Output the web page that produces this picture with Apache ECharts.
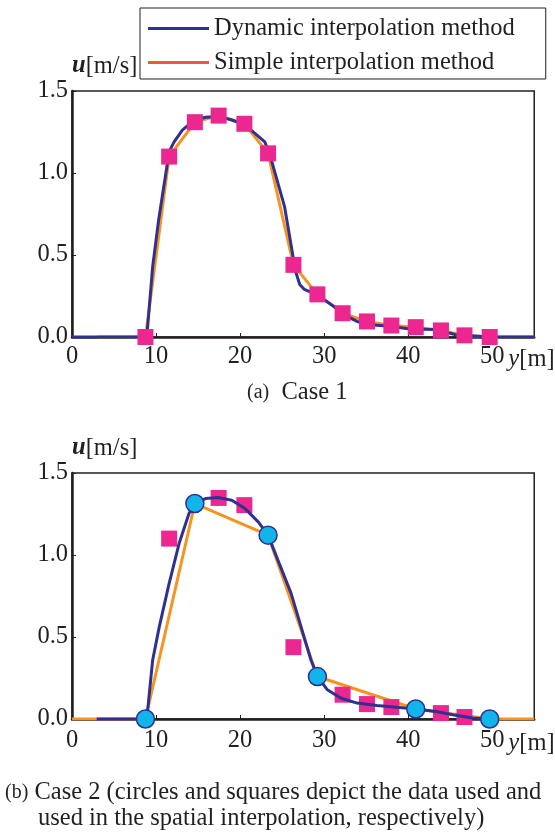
<!DOCTYPE html>
<html>
<head>
<meta charset="utf-8">
<script src="https://cdn.jsdelivr.net/npm/echarts@6/dist/echarts.min.js"></script>
<style>
  html, body { margin: 0; padding: 0; background: #fff; }
  #main { width: 555px; height: 833px; }
</style>
</head>
<body>
<div id="main"></div>
<script>
// data
var xTicks = [0, 10, 20, 30, 40, 50];
var uTicks = [0, 0.5, 1.0, 1.5];

// sampling points (case 1: all squares)
var pointX = [8.74, 11.56, 14.62, 17.45, 20.51, 23.33, 26.35, 29.2, 32.2, 35.1, 38.0, 40.9, 43.9, 46.7, 49.7];
var case1U = [0, 1.10, 1.31, 1.35, 1.30, 1.12, 0.44, 0.26, 0.145, 0.095, 0.07, 0.06, 0.04, 0.01, 0];

// case 2: circles (data used) and squares
var circleX = [8.74, 14.62, 23.33, 29.2, 40.9, 49.7];
var circleU = [0, 1.314, 1.121, 0.259, 0.061, 0];
var squareX = [11.56, 17.45, 20.51, 26.35, 32.2, 35.1, 38.0, 43.9, 46.7];
var squareU = [1.10, 1.348, 1.304, 0.438, 0.148, 0.091, 0.073, 0.036, 0.012];

// dynamic interpolation curves
var dyn1X = [0, 8.9, 9.6, 10.31, 11.56, 12.15, 13.13, 14.31, 15.88, 17.45, 19.01, 20.59, 21.76, 22.94, 23.72, 24.5, 25.29, 26.07, 26.6, 27.1, 27.65, 28.82, 30.0, 31.18, 32.35, 33.92, 35.48, 37.84, 40.19, 43.33, 45.68, 49.6, 55];
var dyn1U = [0, 0, 0.43, 0.714, 1.13, 1.19, 1.262, 1.313, 1.34, 1.345, 1.323, 1.293, 1.242, 1.19, 1.08, 0.938, 0.795, 0.56, 0.40, 0.32, 0.29, 0.265, 0.227, 0.186, 0.136, 0.095, 0.075, 0.065, 0.049, 0.045, 0.014, 0, 0];
var dyn2X = [2.94, 8.9, 9.6, 10.39, 11.56, 12.74, 13.92, 14.62, 15.88, 17.45, 19.01, 20.59, 22.16, 23.33, 24.5, 26.07, 27.25, 28.43, 29.2, 30.39, 31.96, 33.92, 36.27, 38.62, 40.9, 43.33, 45.29, 47.65, 49.7];
var dyn2U = [0, 0, 0.36, 0.563, 0.827, 1.07, 1.253, 1.314, 1.344, 1.35, 1.334, 1.283, 1.202, 1.121, 0.969, 0.766, 0.563, 0.36, 0.259, 0.178, 0.128, 0.097, 0.083, 0.072, 0.061, 0.046, 0.026, 0.006, 0];

// simple interpolation: straight lines between the used data
var simple1X = [3].concat(pointX, [55]);
var simple1U = [0].concat(case1U, [0]);
var simple2X = [0].concat(circleX, [55]);
var simple2U = [0].concat(circleU, [0]);

var navy = '#2E3192';
var orange = '#F7931E';
var pink = '#EC2890';
var cyan = '#12B5EA';
var ink = '#231F20';
var serif = 'Liberation Serif';
var fs = 24.5;

function pairs(xs, ys) {
    return xs.map(function(x, i) { return [x, ys[i]]; });
}

function xAxisFor(idx) {
    return {
        type: 'value', gridIndex: idx, min: 0, max: 55, interval: 10,
        axisLine: { onZero: false, lineStyle: { color: ink, width: 2.5 } },
        axisTick: { inside: true, length: 4, lineStyle: { color: ink, width: 1 } },
        splitLine: { show: false },
        axisLabel: {
            showMaxLabel: false, margin: idx ? 9 : 7, color: ink, fontFamily: serif, fontSize: fs,
            formatter: function(v) { return xTicks.indexOf(v) >= 0 ? String(v) : ''; }
        },
        name: '{i|y}[m]', nameLocation: 'end', nameGap: 12,
        nameTextStyle: {
            align: 'right', verticalAlign: 'top', padding: [idx ? 12 : 10, 0, 0, 0],
            color: ink, fontFamily: serif, fontSize: fs,
            rich: { i: { fontStyle: 'italic', fontFamily: serif, fontSize: fs, color: ink } }
        }
    };
}

function yAxisFor(idx) {
    return {
        type: 'value', gridIndex: idx, min: 0, max: 1.5, interval: 0.5,
        axisLine: { lineStyle: { color: ink, width: 2.5 } },
        axisTick: { inside: true, length: 4, lineStyle: { color: ink, width: 1 } },
        splitLine: { show: false },
        axisLabel: {
            margin: 4, color: ink, fontFamily: serif, fontSize: fs,
            formatter: function(v) { return uTicks.indexOf(v) >= 0 ? v.toFixed(1) : ''; }
        },
        name: '{u|u}[m/s]', nameLocation: 'end', nameGap: 2,
        nameTextStyle: {
            align: 'left', color: ink, fontFamily: serif, fontSize: fs,
            rich: { u: { fontStyle: 'italic', fontWeight: 'bold', fontFamily: serif, fontSize: fs, color: ink } }
        }
    };
}

function lineSeries(name, idx, data, color, z) {
    return {
        name: name, type: 'line', xAxisIndex: idx, yAxisIndex: idx,
        data: data, showSymbol: false, symbol: 'none', smooth: false, z: z,
        lineStyle: { color: color, width: 3 }, itemStyle: { color: color },
        animation: false
    };
}

function dots(idx, data, shape, size, color, border, z) {
    return {
        type: 'scatter', xAxisIndex: idx, yAxisIndex: idx, data: data,
        symbol: shape, symbolSize: size, z: z, animation: false,
        itemStyle: { color: color, opacity: 1, borderColor: border || color, borderWidth: border ? 1.5 : 0 }
    };
}

var option = {
    backgroundColor: '#fff',
    animation: false,
    legend: {
        orient: 'vertical', left: 140, top: 8,
        padding: [8, 31, 4, 8], itemGap: 9,
        itemWidth: 61, itemHeight: 3, icon: 'rect',
        borderColor: ink, borderWidth: 1, selectedMode: false,
        textStyle: { color: ink, fontFamily: serif, fontSize: fs, lineHeight: 24 },
        data: [
            { name: 'Dynamic interpolation method', itemStyle: { color: navy } },
            { name: 'Simple interpolation method', itemStyle: { color: '#F05A30' } }
        ]
    },
    grid: [
        { left: 72, top: 91, width: 469, height: 246, show: true, borderColor: ink, borderWidth: 1.5 },
        { left: 72, top: 473, width: 469, height: 246, show: true, borderColor: ink, borderWidth: 1.5 }
    ],
    xAxis: [xAxisFor(0), xAxisFor(1)],
    yAxis: [yAxisFor(0), yAxisFor(1)],
    series: [
        lineSeries('Simple interpolation method', 0, pairs(simple1X, simple1U), orange, 2),
        lineSeries('Dynamic interpolation method', 0, pairs(dyn1X, dyn1U), navy, 3),
        dots(0, pairs(pointX, case1U), 'rect', 16, pink, null, 4),
        lineSeries('Simple interpolation method', 1, pairs(simple2X, simple2U), orange, 2),
        dots(1, pairs(squareX, squareU), 'rect', 16, pink, null, 3),
        lineSeries('Dynamic interpolation method', 1, pairs(dyn2X, dyn2U), navy, 4),
        dots(1, pairs(circleX, circleU), 'circle', 18, cyan, navy, 5)
    ],
    graphic: [
        {
            type: 'text', left: 247, top: 380,
            style: {
                text: '{s|(a)}  Case 1', fill: ink, font: fs + 'px "Liberation Serif"',
                rich: { s: { fontSize: 20, fontFamily: serif, fill: ink } }
            }
        },
        {
            type: 'text', left: 5, top: 780,
            style: {
                text: '{s|(b)} Case 2 (circles and squares depict the data used and', fill: ink,
                font: fs + 'px "Liberation Serif"',
                rich: { s: { fontSize: 20, fontFamily: serif, fill: ink } }
            }
        },
        {
            type: 'text', left: 38, top: 806,
            style: { text: 'used in the spatial interpolation, respectively)', fill: ink, font: fs + 'px "Liberation Serif"' }
        }
    ]
};

var myChart = echarts.init(document.getElementById('main'));
myChart.setOption(option);
</script>
</body>
</html>
